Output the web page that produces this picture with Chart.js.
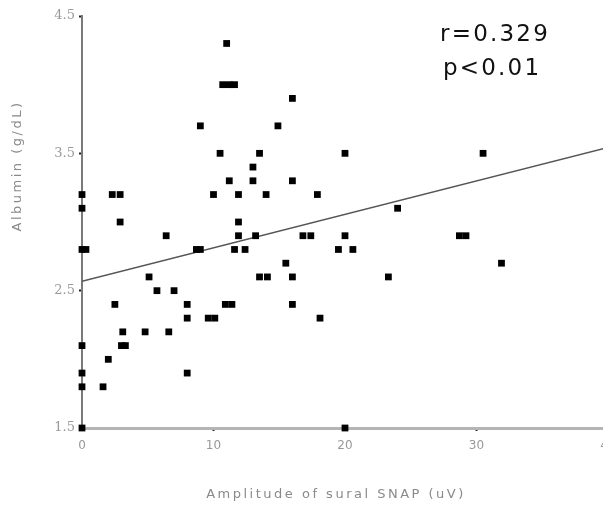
<!DOCTYPE html>
<html lang="en">
<head>
    <meta charset="UTF-8">
    <title>Albumin vs sural SNAP amplitude</title>
    <script src="https://cdn.jsdelivr.net/npm/chart.js"></script>
    <style>
        body { margin: 0; background: #fff; }
        #chart { display: block; }
    </style>
</head>
<body>
    <canvas id="chart" width="603" height="509"></canvas>

    <script>
        // sural SNAP amplitude (uV) and serum albumin (g/dL), one entry per patient
        const snapAmplitude = [
            11.0, 10.7, 11.2, 11.6, 9.0, 10.5, 13.0, 11.2, 13.0, 0,
            2.3, 2.9, 10.0, 11.9, 0, 2.9, 11.9, 6.4, 11.9, 0,
            0.3, 8.7, 9.0, 11.6, 12.4, 5.1, 5.7, 7.0, 2.5, 8.0,
            10.9, 11.4, 8.0, 9.6, 10.1, 3.1, 4.8, 6.6, 0, 3.0,
            3.3, 2.0, 0, 8.0, 0, 1.6, 0, 16.0, 14.9, 13.5,
            20.0, 30.5, 16.0, 14.0, 17.9, 24.0, 13.2, 16.8, 17.4, 20.0,
            28.7, 29.2, 19.5, 20.6, 15.5, 31.9, 13.5, 14.1, 16.0, 23.3,
            16.0, 18.1, 20.0
        ];
        const albumin = [
            4.3, 4.0, 4.0, 4.0, 3.7, 3.5, 3.4, 3.3, 3.3, 3.2,
            3.2, 3.2, 3.2, 3.2, 3.1, 3.0, 3.0, 2.9, 2.9, 2.8,
            2.8, 2.8, 2.8, 2.8, 2.8, 2.6, 2.5, 2.5, 2.4, 2.4,
            2.4, 2.4, 2.3, 2.3, 2.3, 2.2, 2.2, 2.2, 2.1, 2.1,
            2.1, 2.0, 1.9, 1.9, 1.8, 1.8, 1.5, 3.9, 3.7, 3.5,
            3.5, 3.5, 3.3, 3.2, 3.2, 3.1, 2.9, 2.9, 2.9, 2.9,
            2.9, 2.9, 2.8, 2.8, 2.7, 2.7, 2.6, 2.6, 2.6, 2.6,
            2.4, 2.3, 1.5
        ];

        // regression line end points
        const fitX = [0, 40];
        const fitY = [2.568, 3.542];

        const xTicks = [0, 10, 20, 30, 40];
        const yTicks = [1.5, 2.5, 3.5, 4.5];

        const xTitle = 'Amplitude of sural SNAP (uV)';
        const yTitle = 'Albumin (g/dL)';
        const statLines = ['r=0.329', 'p<0.01'];

        const points = snapAmplitude.map((x, i) => ({ x: x, y: albumin[i] }));
        const fitLine = fitX.map((x, i) => ({ x: x, y: fitY[i] }));

        // axis titles and the r / p note
        const textPlugin = {
            id: 'textPlugin',
            afterDraw(chart) {
                const ctx = chart.ctx;
                ctx.save();
                ctx.fillStyle = '#8a8a8a';
                ctx.font = '13px "DejaVu Sans"';
                ctx.letterSpacing = '2.5px';
                ctx.textAlign = 'center';
                ctx.textBaseline = 'middle';
                ctx.fillText(xTitle, 336, 495);
                ctx.translate(18, 166);
                ctx.rotate(-Math.PI / 2);
                ctx.fillText(yTitle, 0, 0);
                ctx.restore();

                ctx.save();
                ctx.fillStyle = '#111';
                ctx.font = '23px "DejaVu Sans"';
                ctx.letterSpacing = '2.2px';
                ctx.textAlign = 'left';
                ctx.textBaseline = 'alphabetic';
                ctx.fillText(statLines[0], 440, 41);
                ctx.fillText(statLines[1], 443, 75);
                ctx.restore();
            }
        };

        const ctx = document.getElementById('chart').getContext('2d');
        const chart = new Chart(ctx, {
            type: 'scatter',
            data: {
                datasets: [
                    {
                        data: points,
                        pointStyle: 'rect',
                        pointRadius: 4.8,
                        backgroundColor: '#000',
                        borderWidth: 0,
                        clip: false
                    },
                    {
                        type: 'line',
                        data: fitLine,
                        borderColor: '#555',
                        borderWidth: 1.5,
                        pointRadius: 0,
                        fill: false
                    }
                ]
            },
            options: {
                responsive: false,
                animation: false,
                layout: {
                    padding: { top: 16, right: 0, bottom: 0, left: 0 },
                    autoPadding: false
                },
                scales: {
                    x: {
                        type: 'linear',
                        min: 0,
                        max: 39.62,
                        afterBuildTicks: s => { s.ticks = xTicks.map(v => ({ value: v })); },
                        afterFit: s => { s.height = 81; s.paddingLeft = 0; s.paddingRight = 0; },
                        ticks: {
                            color: '#999',
                            font: { family: 'DejaVu Sans', size: 12 },
                            padding: 8,
                            autoSkip: false,
                            maxRotation: 0,
                            callback: v => String(v)
                        },
                        grid: { drawOnChartArea: false, tickLength: 3, tickColor: '#222', tickWidth: 2 },
                        border: { color: '#b5b5b5', width: 3 }
                    },
                    y: {
                        min: 1.5,
                        max: 4.5,
                        afterBuildTicks: s => { s.ticks = yTicks.map(v => ({ value: v })); },
                        afterFit: s => { s.width = 82; s.paddingTop = 0; s.paddingBottom = 0; },
                        ticks: {
                            color: '#999',
                            font: { family: 'DejaVu Serif', size: 13 },
                            padding: 4,
                            callback: v => v.toFixed(1)
                        },
                        grid: { drawOnChartArea: false, tickLength: 3, tickColor: '#222', tickWidth: 2 },
                        border: { color: '#7a7a7a', width: 2 }
                    }
                },
                plugins: {
                    legend: { display: false },
                    tooltip: { enabled: false }
                }
            },
            plugins: [textPlugin]
        });
    </script>
</body>
</html>
